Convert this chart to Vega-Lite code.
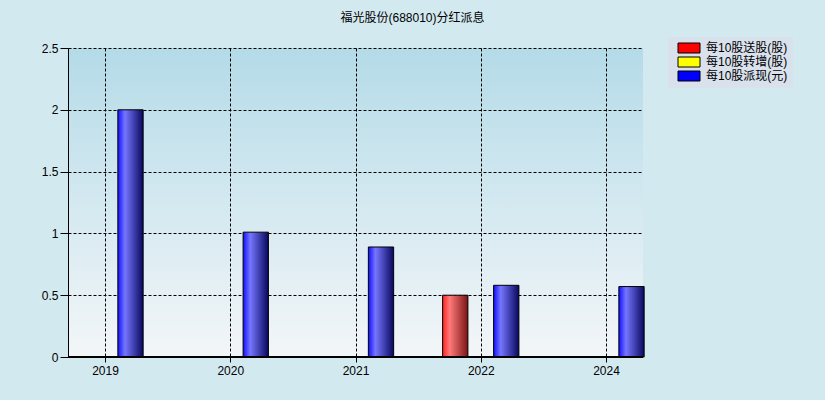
{
  "$schema": "https://vega.github.io/schema/vega-lite/v6.json",
  "autosize": {"type": "none"},
  "width": 575,
  "height": 309,
  "padding": {"left": 68, "top": 48, "right": 182, "bottom": 43},
  "background": "#d3e9f0",
  "title": {
    "text": "福光股份(688010)分红派息",
    "fontSize": 12,
    "fontWeight": "normal",
    "color": "#000000",
    "anchor": "middle",
    "dx": 57,
    "offset": 12
  },
  "data": {
    "values": [
      {"year": "2019", "type": "每10股派现(元)", "value": 2.0},
      {"year": "2020", "type": "每10股派现(元)", "value": 1.01},
      {"year": "2021", "type": "每10股派现(元)", "value": 0.89},
      {"year": "2022", "type": "每10股送股(股)", "value": 0.5},
      {"year": "2022", "type": "每10股派现(元)", "value": 0.58},
      {"year": "2024", "type": "每10股派现(元)", "value": 0.57}
    ]
  },
  "transform": [
    {"calculate": "indexof(['2019','2020','2021','2022','2024'], datum.year)", "as": "slot"}
  ],
  "encoding": {
    "x": {
      "field": "slot",
      "type": "quantitative",
      "title": null,
      "scale": {"domain": [-0.2954, 4.2954], "nice": false, "zero": false, "padding": 0},
      "axis": {
        "values": [0, 1, 2, 3, 4],
        "labelExpr": "['2019','2020','2021','2022','2024'][datum.value]",
        "domain": false,
        "labelFontSize": 12,
        "labelColor": "#000000",
        "labelPadding": 3,
        "labelFlush": false,
        "tickColor": "#000000",
        "tickSize": 5,
        "grid": true,
        "gridColor": "#000000",
        "gridDash": [3, 2],
        "gridOpacity": 1
      }
    },
    "y": {
      "field": "value",
      "type": "quantitative",
      "title": null,
      "scale": {"domain": [0, 2.5], "nice": false},
      "axis": {
        "values": [0, 0.5, 1, 1.5, 2, 2.5],
        "format": "~g",
        "domain": true,
        "domainColor": "#000000",
        "labelFontSize": 12,
        "labelColor": "#000000",
        "labelPadding": 2,
        "tickColor": "#000000",
        "tickSize": 8,
        "grid": true,
        "gridColor": "#000000",
        "gridDash": [3, 2],
        "gridOpacity": 1
      }
    },
    "color": {
      "field": "type",
      "type": "nominal",
      "title": null,
      "scale": {
        "domain": ["每10股送股(股)", "每10股转增(股)", "每10股派现(元)"],
        "range": ["#ff0000", "#ffff00", "#0000ff"]
      },
      "legend": {
        "orient": "none",
        "legendX": 600,
        "legendY": -11,
        "direction": "vertical",
        "padding": 5,
        "rowPadding": 0,
        "fillColor": "#d9e1ed",
        "symbolType": "M-0.2,-1H4.2V1H-0.2Z",
        "symbolSize": 100,
        "symbolStrokeColor": "#000000",
        "symbolStrokeWidth": 1,
        "symbolOpacity": 1,
        "labelFontSize": 12,
        "labelColor": "#000000",
        "labelOffset": 21
      }
    }
  },
  "layer": [
    {
      "transform": [{"filter": "datum.type === '每10股派现(元)'"}],
      "mark": {
        "type": "bar",
        "width": 25.3,
        "xOffset": 25.5,
        "stroke": "#000000",
        "strokeWidth": 1,
        "fill": {
          "gradient": "linear",
          "x1": 0, "y1": 0, "x2": 1, "y2": 0,
          "stops": [
            {"offset": 0, "color": "#1010ff"},
            {"offset": 0.28, "color": "#7676ff"},
            {"offset": 1, "color": "#08085e"}
          ]
        }
      }
    },
    {
      "transform": [{"filter": "datum.type === '每10股送股(股)'"}],
      "mark": {
        "type": "bar",
        "width": 25.3,
        "xOffset": -25.5,
        "stroke": "#000000",
        "strokeWidth": 1,
        "fill": {
          "gradient": "linear",
          "x1": 0, "y1": 0, "x2": 1, "y2": 0,
          "stops": [
            {"offset": 0, "color": "#ff2020"},
            {"offset": 0.28, "color": "#ff7a7a"},
            {"offset": 1, "color": "#7a1414"}
          ]
        }
      }
    },
    {
      "mark": {"type": "rule", "color": "#000000", "strokeWidth": 1.5},
      "encoding": {"x": {"value": 0}, "x2": {"value": 575}, "y": {"datum": 0}, "color": {"value": "#000000"}}
    }
  ],
  "config": {
    "font": "Liberation Sans, Noto Sans CJK SC, sans-serif",
    "view": {
      "stroke": null,
      "fill": {
        "gradient": "linear",
        "x1": 0, "y1": 0, "x2": 0, "y2": 1,
        "stops": [
          {"offset": 0, "color": "#b4dbe8"},
          {"offset": 1, "color": "#f3f6f8"}
        ]
      }
    }
  }
}
